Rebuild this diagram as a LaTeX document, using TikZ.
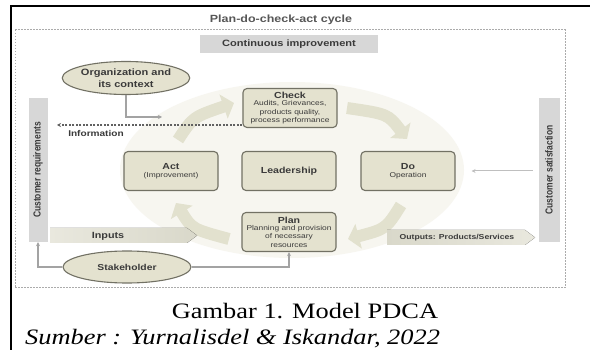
\documentclass[tikz,border=0pt]{standalone}
\usepackage{fontspec}
\setmainfont{Liberation Serif}
\newfontfamily\dsans{Liberation Sans}
\usepackage{graphicx}
\usetikzlibrary{shapes.geometric,arrows.meta}
\definecolor{boxfill}{HTML}{E4E2CF}
\definecolor{boxdraw}{HTML}{727164}
\definecolor{bargray}{HTML}{D7D7D7}
\definecolor{pale}{HTML}{F7F6F0}
\definecolor{fatcol}{HTML}{E2E1CE}
\definecolor{txt}{HTML}{3A3A3A}
\definecolor{framegray}{HTML}{ABABAB}
\definecolor{conngray}{HTML}{A3A3A3}
\definecolor{bandL}{HTML}{E9E8DE}
\definecolor{bandR}{HTML}{D9D8CA}
\newcommand{\hs}[1]{\scalebox{1.2}[1]{#1}}
\newcommand{\vs}[1]{\scalebox{1}[1.2]{#1}}
\newcommand{\ttl}{\dsans\bfseries\fontsize{8.8}{10}\selectfont}
\newcommand{\sbt}{\dsans\fontsize{7}{8.3}\selectfont}
\tikzset{
  pdcabox/.style={draw=boxdraw, fill=boxfill, rounded corners=4pt, line width=1.1pt,
    minimum width=94pt, minimum height=39pt, inner sep=1pt, align=center, text=txt, font=\sbt},
  oval/.style={ellipse, draw=boxdraw, fill=boxfill, line width=1.1pt, align=center,
    inner sep=0pt, text=txt},
  sidebar/.style={fill=bargray, rotate=90, minimum width=144pt, inner sep=0pt, text=txt,
    font=\dsans\bfseries\fontsize{8.5}{10}\selectfont},
  conn/.style={draw=conngray, line width=1.2pt},
  fat/.style={draw=fatcol, line width=12pt, -{Triangle[length=11pt,width=25pt]}},
  lbl/.style={text=txt, font=\dsans\bfseries\fontsize{8.6}{10}\selectfont, inner sep=0pt}
}
\begin{document}
\begin{tikzpicture}[x=1pt,y=-1pt]
\useasboundingbox (0,0) rectangle (590,350);
\fill[white] (0,0) rectangle (590,350);
% outer black frame
\draw[line width=2pt] (11,351) -- (11,6) -- (591,6);
% title
\node[text=txt!85, font=\dsans\bfseries\fontsize{10.4}{12}\selectfont] (title) at (281,20) {\hs{Plan-do-check-act cycle}};
% dotted frame
\draw[framegray, line width=1pt, dash pattern=on 1.5pt off 1.5pt] (15,30) rectangle (565,288);
% continuous improvement
\node[fill=bargray, minimum width=178pt, minimum height=18pt, inner sep=0pt, text=txt,
  font=\dsans\bfseries\fontsize{9.2}{11}\selectfont] (ci) at (289,44) {\hs{Continuous improvement}};
% pale background
\fill[pale] (292,170) ellipse [x radius=172, y radius=88];
% fat cycle arrows
\coordinate (f1s) at (178,140); \coordinate (f1e) at (234,103);
\coordinate (f2s) at (347,108); \coordinate (f2e) at (407,139);
\coordinate (f3s) at (401,205); \coordinate (f3e) at (348,239);
\coordinate (f4s) at (229,239); \coordinate (f4e) at (176,203);
\draw[fat] (f1s) .. controls (193,117) .. (f1e);
\draw[fat] (f2s) .. controls (388,114) .. (f2e);
\draw[fat] (f3s) .. controls (386,229) .. (f3e);
\draw[fat] (f4s) .. controls (192,229) .. (f4e);
% side bars
\node[sidebar, minimum height=19pt] (req) at (38,170) {\vs{Customer requirements}};
\node[sidebar, minimum height=21pt] (sat) at (549,170) {\vs{Customer satisfaction}};
% inputs / outputs bands
\fill[left color=bandL, right color=bandR] (50,228) -- (187,228) -- (197,235.5) -- (187,243) -- (50,243) -- cycle;
\node[lbl, font=\dsans\bfseries\fontsize{9}{10}\selectfont] (inputs) at (108,236) {\hs{Inputs}};
\fill[left color=bandR, right color=bandL] (387,230) -- (525,230) -- (535,237.5) -- (525,245) -- (387,245) -- cycle;
\node[lbl, font=\dsans\bfseries\fontsize{7.2}{9}\selectfont] (outputs) at (457,237.5) {\hs{Outputs: Products/Services}};
% PDCA boxes
\node[pdcabox] (check) at (290,108) {{\ttl\hs{Check}}\\[-1pt]\hs{Audits, Grievances,}\\\hs{products quality,}\\\hs{process performance}};
\node[pdcabox] (act) at (171,171) {{\ttl\hs{Act}}\\\hs{(Improvement)}};
\node[pdcabox] (lead) at (289,171) {{\ttl\hs{Leadership}}};
\node[pdcabox] (do) at (408,171) {{\ttl\hs{Do}}\\\hs{Operation}};
\node[pdcabox] (plan) at (289,232) {{\ttl\hs{Plan}}\\[-1pt]\hs{Planning and provision}\\\hs{of necessary}\\\hs{resources}};
% ellipses
\node[oval, minimum width=125pt, minimum height=33pt, font=\dsans\bfseries\fontsize{9.2}{11.5}\selectfont] (org) at (126,78) {\hs{Organization and}\\\hs{its context}};
\node[oval, minimum width=128pt, minimum height=32pt, font=\dsans\bfseries\fontsize{8.6}{10}\selectfont] (stake) at (127,267) {\hs{Stakeholder}};
% connectors
\coordinate (orgEnd) at (162,117);
\draw[conn, -{Stealth[length=4pt,width=4pt]}] (org.south) |- (orgEnd);
\coordinate (infoL) at (57,125);
\draw[draw=txt!80, line width=1.2pt, dash pattern=on 2pt off 1.5pt, -{Stealth[length=4pt,width=4pt]}] (check.west |- infoL) -- (infoL);
\node[lbl, font=\dsans\bfseries\fontsize{8.4}{10}\selectfont] (info) at (96,133) {\hs{Information}};
\coordinate (satL) at (533,171);
\draw[draw=conngray!70, line width=1pt, {Stealth[length=4pt,width=4pt]}-] ([xshift=16pt]do.east) -- (satL);
\draw[conn, -{Stealth[length=4pt,width=4pt]}] (stake.east) -| (plan.south);
\draw[conn, -{Stealth[length=4pt,width=4pt]}] (stake.west) -| (req.west);
% caption
\node[anchor=base, inner sep=0pt, font=\fontsize{22}{26}\selectfont] (cap) at (305,319) {\hs{Gambar 1. Model PDCA}};
\node[anchor=base west, inner sep=0pt, font=\itshape\fontsize{22}{26}\selectfont] (src) at (25,344.5) {\hs{Sumber : Yurnalisdel \& Iskandar, 2022}};
\end{tikzpicture}
\end{document}
